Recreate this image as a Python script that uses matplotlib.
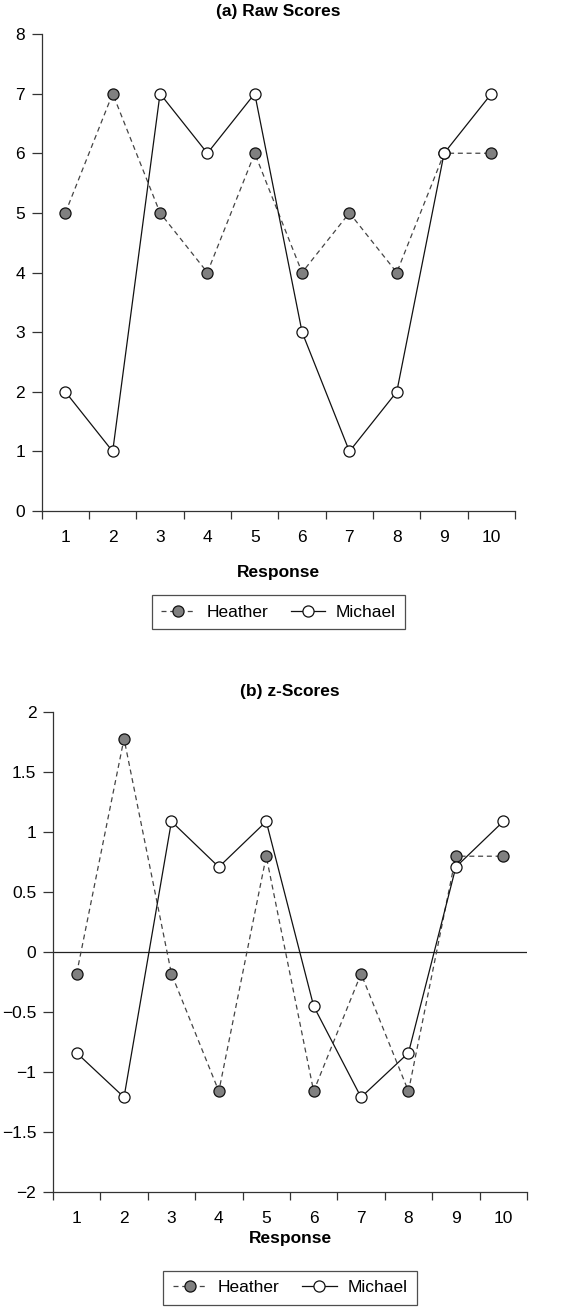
import matplotlib
matplotlib.use("Agg")
import matplotlib.pyplot as plt
from matplotlib.lines import Line2D

plt.rcParams['font.family'] = ['Liberation Sans', 'DejaVu Sans']
plt.rcParams['font.size'] = 12

responses = [1, 2, 3, 4, 5, 6, 7, 8, 9, 10]
heather_raw = [5, 7, 5, 4, 6, 4, 5, 4, 6, 6]
michael_raw = [2, 1, 7, 6, 7, 3, 1, 2, 6, 7]
heather_z = [-0.18, 1.78, -0.18, -1.16, 0.80, -1.16, -0.18, -1.16, 0.80, 0.80]
michael_z = [-0.84, -1.21, 1.09, 0.71, 1.09, -0.45, -1.21, -0.84, 0.71, 1.09]

raw_yticks = [0, 1, 2, 3, 4, 5, 6, 7, 8]
z_yticks = [-2, -1.5, -1, -0.5, 0, 0.5, 1, 1.5, 2]
z_yticklabels = ['\u22122', '\u22121.5', '\u22121', '\u22120.5', '0', '0.5', '1', '1.5', '2']

TICK_FS = 12.5
BOLD_FS = 12.5

HEATHER_STYLE = dict(color='#444444', linestyle=(0, (4, 3)), linewidth=0.9,
                     marker='o', markersize=8, markerfacecolor='#808080',
                     markeredgecolor='#111111', markeredgewidth=0.9)
MICHAEL_STYLE = dict(color='#111111', linestyle='-', linewidth=0.9,
                     marker='o', markersize=8, markerfacecolor='white',
                     markeredgecolor='#111111', markeredgewidth=0.9)


def style_axis(ax):
    ax.spines['top'].set_visible(False)
    ax.spines['right'].set_visible(False)
    for s in ('left', 'bottom'):
        ax.spines[s].set_linewidth(0.9)
        ax.spines[s].set_color('#333333')
    ax.set_xlim(0.5, 10.5)
    ax.set_xticks(responses)
    ax.set_xticks([r - 0.5 for r in responses] + [10.5], minor=True)
    ax.tick_params(axis='x', which='major', length=0, pad=14, labelsize=TICK_FS)
    ax.tick_params(axis='x', which='minor', length=6, width=0.9, direction='out', color='#333333')
    ax.tick_params(axis='y', length=7, width=0.9, direction='out', color='#333333',
                   labelsize=TICK_FS, pad=5)


def add_legend(ax, y):
    handles = [Line2D([], [], **HEATHER_STYLE), Line2D([], [], **MICHAEL_STYLE)]
    leg = ax.legend(handles, ['Heather', 'Michael'], loc='center', bbox_to_anchor=(0.5, y),
                    ncol=2, frameon=True, fancybox=False, edgecolor='#222222',
                    handlelength=2.0, columnspacing=1.3, fontsize=TICK_FS,
                    borderpad=0.55, handletextpad=0.6)
    leg.get_frame().set_linewidth(0.9)


fig = plt.figure(figsize=(5.63, 13.07), dpi=100)

# (a) raw scores
ax1 = fig.add_axes([0.074, 0.609, 0.841, 0.365])
ax1.plot(responses, heather_raw, **HEATHER_STYLE)
ax1.plot(responses, michael_raw, **MICHAEL_STYLE)
ax1.set_ylim(0, 8)
ax1.set_yticks(raw_yticks)
style_axis(ax1)
ax1.set_title('(a) Raw Scores', fontweight='bold', fontsize=BOLD_FS, pad=13)
ax1.set_xlabel('Response', fontweight='bold', fontsize=BOLD_FS, labelpad=14)
add_legend(ax1, -0.212)

# (b) z-scores
ax2 = fig.add_axes([0.094, 0.088, 0.842, 0.367])
ax2.axhline(0, color='#222222', linewidth=0.9)
ax2.plot(responses, heather_z, **HEATHER_STYLE)
ax2.plot(responses, michael_z, **MICHAEL_STYLE)
ax2.set_ylim(-2, 2)
ax2.set_yticks(z_yticks)
ax2.set_yticklabels(z_yticklabels)
style_axis(ax2)
ax2.set_title('(b) z-Scores', fontweight='bold', fontsize=BOLD_FS, pad=12)
ax2.set_xlabel('Response', fontweight='bold', fontsize=BOLD_FS, labelpad=3)
add_legend(ax2, -0.2)

fig.savefig('out.png', dpi=100)
